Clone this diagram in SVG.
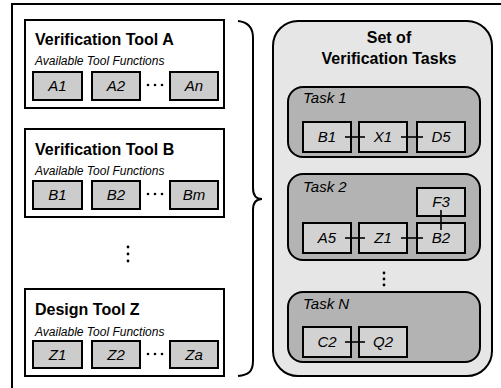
<svg xmlns="http://www.w3.org/2000/svg" width="501" height="388" viewBox="0 0 501 388">
  <style>
    .frame { fill: none; stroke: #000; stroke-width: 2; }
    .tool { fill: #fff; stroke: #000; stroke-width: 2; }
    .fn { fill: #cccccc; stroke: #000; stroke-width: 2; }
    .panel { fill: #e6e6e6; stroke: #000; stroke-width: 2; }
    .task { fill: #b3b3b3; stroke: #000; stroke-width: 2; }
    .tfn { fill: #d2d2d2; stroke: #000; stroke-width: 2; }
    .link { stroke: #000; stroke-width: 1.6; fill: none; }
    .title { font-family: "Liberation Sans", Arial, sans-serif; font-weight: bold; font-size: 16px; fill: #000; }
    .sub { font-family: "Liberation Sans", Arial, sans-serif; font-style: italic; font-size: 12px; fill: #000; }
    .lbl { font-family: "Liberation Sans", Arial, sans-serif; font-style: italic; font-size: 15px; fill: #000; text-anchor: middle; }
    .tlbl { font-family: "Liberation Sans", Arial, sans-serif; font-style: italic; font-size: 15px; fill: #000; }
    .dot { fill: #000; }
  </style>

  <!-- outer frame -->
  <path class="frame" d="M12,388 V4 H501"/>

  <!-- Verification Tool A -->
  <g id="tool-a">
    <rect class="tool" x="25" y="20" width="199" height="88"/>
    <text class="title" x="35" y="45">Verification Tool A</text>
    <text class="sub" x="35" y="65">Available Tool Functions</text>
    <rect class="fn" x="33" y="72" width="49" height="28"/>
    <text class="lbl" x="57.5" y="91">A1</text>
    <rect class="fn" x="92" y="72" width="48" height="28"/>
    <text class="lbl" x="116" y="91">A2</text>
    <circle class="dot" cx="148" cy="85" r="1.3"/>
    <circle class="dot" cx="155" cy="85" r="1.3"/>
    <circle class="dot" cx="162" cy="85" r="1.3"/>
    <rect class="fn" x="170" y="72" width="48" height="28"/>
    <text class="lbl" x="194" y="91">An</text>
  </g>

  <!-- Verification Tool B -->
  <g id="tool-b">
    <rect class="tool" x="25" y="129" width="199" height="88"/>
    <text class="title" x="35" y="155">Verification Tool B</text>
    <text class="sub" x="35" y="175">Available Tool Functions</text>
    <rect class="fn" x="33" y="181" width="49" height="28"/>
    <text class="lbl" x="57.5" y="200">B1</text>
    <rect class="fn" x="92" y="181" width="48" height="28"/>
    <text class="lbl" x="116" y="200">B2</text>
    <circle class="dot" cx="148" cy="194" r="1.3"/>
    <circle class="dot" cx="155" cy="194" r="1.3"/>
    <circle class="dot" cx="162" cy="194" r="1.3"/>
    <rect class="fn" x="170" y="181" width="48" height="28"/>
    <text class="lbl" x="194" y="200">Bm</text>
  </g>

  <!-- vertical ellipsis between tools -->
  <g id="tools-more">
    <circle class="dot" cx="128" cy="247" r="1.4"/>
    <circle class="dot" cx="128" cy="254" r="1.4"/>
    <circle class="dot" cx="128" cy="261" r="1.4"/>
  </g>

  <!-- Design Tool Z -->
  <g id="tool-z">
    <rect class="tool" x="25" y="289" width="199" height="87"/>
    <text class="title" x="35" y="315">Design Tool Z</text>
    <text class="sub" x="35" y="336">Available Tool Functions</text>
    <rect class="fn" x="33" y="341" width="49" height="27"/>
    <text class="lbl" x="57.5" y="360">Z1</text>
    <rect class="fn" x="92" y="341" width="48" height="27"/>
    <text class="lbl" x="116" y="360">Z2</text>
    <circle class="dot" cx="148" cy="354" r="1.3"/>
    <circle class="dot" cx="155" cy="354" r="1.3"/>
    <circle class="dot" cx="162" cy="354" r="1.3"/>
    <rect class="fn" x="170" y="341" width="48" height="27"/>
    <text class="lbl" x="194" y="360">Za</text>
  </g>

  <!-- curly brace grouping the tools -->
  <g id="brace">
    <path class="frame" d="M238,21 C248,22 253,27 253,38 V188 C253,195 256,199 262,199 C256,199 253,203 253,210 V361 C253,372 248,375 238,376"/>
  </g>

  <!-- Set of Verification Tasks -->
  <g id="task-set">
    <rect class="panel" x="273" y="21" width="219" height="355" rx="25" ry="25"/>
    <text class="title" x="389" y="43" text-anchor="middle">Set of</text>
    <text class="title" x="389" y="64" text-anchor="middle">Verification Tasks</text>
  </g>

  <g id="task-1">
    <rect class="task" x="288" y="87" width="192" height="70" rx="15" ry="15"/>
    <text class="tlbl" x="303" y="103">Task 1</text>
    <rect class="tfn" x="303" y="122" width="48" height="30"/>
    <text class="lbl" x="327" y="142">B1</text>
    <rect class="tfn" x="359" y="122" width="48" height="30"/>
    <text class="lbl" x="383" y="142">X1</text>
    <rect class="tfn" x="417" y="122" width="48" height="30"/>
    <text class="lbl" x="441" y="142">D5</text>
  </g>

  <g id="task-2">
    <rect class="task" x="288" y="174" width="192" height="86" rx="15" ry="15"/>
    <text class="tlbl" x="303" y="192">Task 2</text>
    <rect class="tfn" x="417" y="188" width="48" height="28"/>
    <text class="lbl" x="441" y="207">F3</text>
    <rect class="tfn" x="303" y="223" width="48" height="30"/>
    <text class="lbl" x="327" y="243">A5</text>
    <rect class="tfn" x="359" y="223" width="48" height="30"/>
    <text class="lbl" x="383" y="243">Z1</text>
    <rect class="tfn" x="417" y="223" width="48" height="30"/>
    <text class="lbl" x="441" y="243">B2</text>
  </g>

  <!-- vertical ellipsis between tasks -->
  <g id="tasks-more">
    <circle class="dot" cx="384" cy="273" r="1.4"/>
    <circle class="dot" cx="384" cy="279" r="1.4"/>
    <circle class="dot" cx="384" cy="285" r="1.4"/>
  </g>

  <g id="task-n">
    <rect class="task" x="288" y="292" width="192" height="70" rx="15" ry="15"/>
    <text class="tlbl" x="303" y="309">Task N</text>
    <rect class="tfn" x="303" y="327" width="48" height="30"/>
    <text class="lbl" x="327" y="347">C2</text>
    <rect class="tfn" x="359" y="327" width="48" height="30"/>
    <text class="lbl" x="383" y="347">Q2</text>
  </g>

  <!-- links between chained functions -->
  <g id="connectors">
    <line class="link" x1="345" y1="137" x2="365" y2="137"/>
    <line class="link" x1="401" y1="137" x2="423" y2="137"/>
    <line class="link" x1="345" y1="238" x2="365" y2="238"/>
    <line class="link" x1="401" y1="238" x2="423" y2="238"/>
    <line class="link" x1="441" y1="210" x2="441" y2="230"/>
    <line class="link" x1="345" y1="342" x2="365" y2="342"/>
  </g>
</svg>
